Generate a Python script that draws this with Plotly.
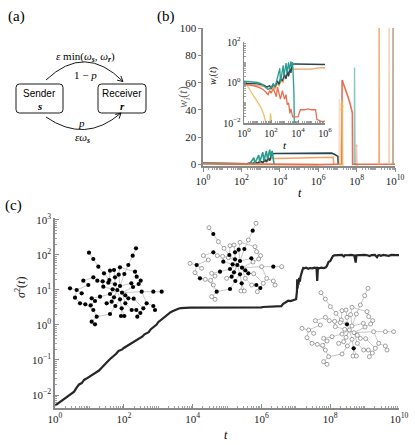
import math
import plotly.graph_objects as go

W, H = 415, 445

# ---------------- panel (b): w_i(t) ----------------
navy_t = [1, 3, 10, 30, 50, 80, 100, 150, 200, 300, 400, 500, 700, 1000, 1300, 1700, 2000, 2500, 3000,
          3500, 4000, 6000, 1e4, 1e5, 1e6, 3e6, 5e6, 7e6, 9e6, 1.07e7, 1.1e7]
navy_w = [0.9, 0.9, 0.85, 0.75, 0.6, 0.7, 0.5, 0.8, 0.6, 1.2, 0.8, 1.6, 1.2, 2.5, 1.5, 3.5, 2.0, 5.0, 3.0,
          6.5, 8.0, 8.2, 8.2, 8.3, 8.5, 8.7, 8.4, 7.6, 6.8, 6.0, 0.001]

teal_t = [1, 3, 10, 20, 40, 60, 100, 150, 200, 300, 450, 500, 800, 900, 1300, 1500, 2000, 2300, 3000,
          3300, 4000, 5000, 5500]
teal_w = [1.15, 1.1, 1.0, 0.85, 0.6, 0.45, 0.55, 0.9, 0.6, 1.5, 5.0, 1.0, 7.0, 2.0, 9.0, 3.0, 10.0, 4.0, 11.0,
          6.0, 10.0, 0.3, 0.001]

orange_t = [1, 5, 10, 30, 60, 100, 150, 200, 300, 400, 600, 800, 1000, 1500, 2000, 3000, 4000, 6000,
            1e4, 1e5, 3e5, 1e6, 3e6, 5e6, 6e6, 6.5e6]
orange_w = [0.8, 0.75, 0.7, 0.65, 0.55, 0.45, 0.6, 0.5, 0.9, 0.7, 1.3, 1.0, 2.0, 2.5, 2.2, 4.0, 4.8, 4.5,
            4.6, 4.6, 5.3, 5.4, 5.5, 5.5, 5.4, 0.001]

yellow_t = [1, 1.5, 2, 3, 5, 8, 12, 20, 30, 45, 50, 80, 90, 100, 110, 1e6]
yellow_w = [1.0, 0.8, 0.6, 0.4, 0.25, 0.15, 0.09, 0.05, 0.025, 0.008, 0.001, 0.001, 0.03, 0.02, 0.001, 0.001]

salmon_t = [1, 3, 10, 20, 40, 60, 80, 100, 150, 200, 250, 300, 400, 500, 700, 1000, 1300, 1600, 2000,
            2500, 3000, 4000, 6000, 1e4, 1.5e4, 3e4, 6e4, 1e5, 2e5, 2.5e5, 5e5, 1e6, 1e7, 1.7e7, 1.75e7,
            2.2e7, 2.8e7, 3.5e7, 4.5e7, 5.5e7, 6e7, 6.2e7, 1e10]
salmon_w = [0.8, 0.75, 0.6, 0.5, 0.35, 0.25, 0.4, 0.3, 0.5, 0.25, 0.2, 0.6, 0.3, 0.15, 0.4, 0.15, 0.25, 0.08, 0.1,
            0.03, 0.05, 0.02, 0.02, 0.02, 0.045, 0.045, 0.05, 0.045, 0.045, 0.015, 0.012, 0.012, 0.3, 0.3, 62,
            58, 55, 50, 45, 40, 38, 0.3, 0.3]

# late, short-lived nodes (faded spikes)
late_yellow_t = [1.45e7, 1.5e7, 1.6e7, 1.7e7, 1.8e7, 1.9e7, 1.95e7]
late_yellow_w = [0, 40, 44, 42, 46, 43, 0]
late_peach_t = [1.2e7, 1.22e7, 1.26e7, 1.28e7]
late_peach_w = [0, 48, 48, 0]
late_teal_t = [7.7e7, 7.8e7, 8.2e7, 8.3e7]
late_teal_w = [0, 71, 70, 0]
late_pink_t = [9.5e7, 1.0e8, 1.05e8]
late_pink_w = [0, 14, 0]
late_orange_t = [1.45e9, 1.47e9, 1.5e9, 1.52e9]
late_orange_w = [0, 150, 150, 0]
late_peach2_t = [4.8e9, 4.85e9, 4.95e9, 5.0e9]
late_peach2_w = [0, 150, 150, 0]
late_tan_t = [7.8e9, 7.85e9, 7.95e9, 8.0e9]
late_tan_w = [0, 150, 150, 0]

# ---------------- panel (c): sigma^2(t) ----------------
sig_t = [1, 1.3, 1.6, 2, 2.5, 3, 3.6, 4.2, 5, 6, 7, 8, 9, 10, 12, 14, 16, 19, 22, 26, 30, 35, 40, 46, 53, 60,
         70, 80, 90, 100, 115, 130, 150, 170, 200, 230, 260, 300, 350, 400, 460, 530, 600, 700, 800, 900,
         1000, 1150, 1300, 1500, 1700, 2000, 2300, 2600, 3000, 3500, 4000, 4600, 5300, 6000, 7000, 8500,
         1e4, 1.5e4, 2e4, 3e4, 5e4, 7e4, 1e5, 1.5e5, 2e5, 3e5, 5e5, 7e5, 1e6, 1.1e6, 1.5e6, 2e6, 2.5e6, 3e6,
         3.8e6, 4.2e6, 4.5e6, 5e6, 5.5e6, 6e6, 7e6, 8e6, 9e6, 1.02e7, 1.08e7, 1.1e7, 1.13e7, 1.16e7, 1.2e7,
         1.25e7, 1.3e7, 1.38e7, 1.45e7, 1.55e7, 1.65e7, 1.75e7, 2e7, 2.3e7, 2.6e7, 3e7, 3.5e7, 4e7, 4.2e7,
         4.4e7, 4.7e7, 5.5e7, 6.5e7, 7.5e7, 8e7, 8.5e7, 9e7, 1e8, 1.1e8, 1.2e8, 1.3e8, 1.5e8, 1.8e8, 2.2e8,
         2.5e8, 2.7e8, 3.2e8, 4e8, 5e8, 5.5e8, 5.8e8, 6.5e8, 8e8, 1e9, 1.2e9, 1.4e9, 1.6e9, 1.8e9, 2e9,
         2.3e9, 2.5e9, 2.7e9, 3e9, 3.5e9, 4e9, 4.5e9, 5e9, 6e9, 7e9, 8.5e9, 1e10]
sig_v = [0.005, 0.006, 0.007, 0.0085, 0.01, 0.0112, 0.0125, 0.016, 0.02, 0.022, 0.027, 0.029, 0.031, 0.033,
         0.037, 0.042, 0.043, 0.05, 0.058, 0.068, 0.076, 0.093, 0.107, 0.118, 0.135, 0.15,
         0.18, 0.19, 0.2, 0.22, 0.24, 0.25, 0.28, 0.3, 0.33, 0.36, 0.38, 0.44, 0.47, 0.54, 0.59, 0.62, 0.74,
         0.82, 0.95, 1.02,
         1.2, 1.35, 1.42, 1.7, 1.85, 2.15, 2.3, 2.45, 2.65, 2.8, 2.95, 3.0, 3.05, 3.08, 3.1, 3.1,
         3.12, 3.11, 3.12, 3.13, 3.12, 3.13, 3.14, 3.13, 3.14, 3.15, 3.15, 3.16, 3.17, 3.25, 3.3, 3.35, 3.4,
         3.42,
         3.45, 3.9, 4.1, 4.3, 4.6, 4.9, 4.8, 5.0, 5.1, 5.4, 9, 20, 11, 18, 14,
         22, 17, 24, 30, 36, 42, 41, 43, 40, 42, 41, 43, 42, 18,
         42, 41, 43, 42, 44, 48, 60, 63, 66, 80, 92, 96, 98, 97, 99,
         90, 98, 97, 99, 96, 60, 97, 98, 95, 99, 97, 92, 98, 96, 99,
         85, 97, 98, 94, 99, 97, 98, 93, 99, 97, 98, 98]
assert len(sig_t) == len(sig_v)

# ---------------- network drawings (node layout, edges, states) ----------------
node_x = [172, 158, 186, 165, 180, 205, 218, 228, 193, 87, 100, 115, 132, 148, 150, 162, 180, 176, 165,
          225, 230, 242, 236, 214, 219, 245, 280, 305, 260, 280, 285, 205, 221, 215, 229, 241, 232, 250,
          196, 180, 166, 185, 183, 193, 155, 140, 150, 120, 110, 95, 105, 150, 100, 112, 128, 85, 70, 30,
          50, 65, 45, 60, 76, 95, 105, 92, 100, 145, 196, 162, 130]
node_y = [150, 148, 158, 133, 138, 75, 47, 25, 102, 38, 57, 80, 100, 120, 92, 90, 82, 104, 112,
          95, 110, 122, 132, 130, 141, 155, 155, 155, 190, 198, 210, 175, 176, 210, 210, 219, 230, 205,
          190, 178, 198, 205, 228, 228, 185, 190, 222, 170, 230, 245, 253, 162, 112, 122, 124, 135, 122, 145,
          150, 160, 173, 190, 193, 175, 183, 196, 210, 128, 166, 172, 140]
edges = [(0, 1), (0, 2), (0, 3), (0, 4), (0, 39), (0, 44), (0, 51), (0, 69), (4, 8), (8, 5), (5, 6), (6, 7),
         (9, 10), (10, 11), (11, 12), (12, 13), (13, 3), (14, 13), (15, 18), (16, 17), (17, 18), (18, 3),
         (17, 4), (19, 20), (20, 21), (21, 22), (22, 24), (23, 24), (23, 4), (24, 2), (16, 19), (2, 25),
         (25, 26), (26, 27), (25, 28), (28, 29), (29, 30), (28, 37), (2, 31), (31, 32), (32, 37), (37, 35),
         (33, 34), (34, 35), (35, 36), (33, 38), (38, 2), (39, 41), (41, 42), (41, 43), (39, 40), (40, 46),
         (44, 45), (46, 48), (48, 49), (49, 50), (1, 51), (51, 47), (47, 63), (63, 64), (64, 65), (65, 66),
         (66, 48), (3, 67), (67, 54), (54, 53), (53, 52), (52, 56), (56, 55), (55, 58), (57, 58), (58, 59),
         (58, 60), (60, 61), (61, 62), (62, 66), (1, 70), (70, 54), (0, 68), (68, 31)]
alive_net1 = list(range(71))
alive_net2 = [0, 1, 2, 3, 4, 6, 8, 10, 13, 17, 18, 23, 26, 31, 34, 35, 39, 40, 41, 44, 46, 47, 48, 51, 52,
              58, 61, 68, 69, 70]
alive_net3 = [3, 41]

# ---------------- helpers ----------------
def dx(a, b):
    return [a / W, b / W]


def dy(top, bottom):
    return [1 - bottom / H, 1 - top / H]


SERIF = "Liberation Serif"
SANS = "Liberation Sans"
AX = "#8a8a8a"
TXT = "#222"


def sup(e):
    return "10<sup>%s</sup>" % (str(e).replace("-", "\u2212"))


fig = go.Figure()

# ---- (b) main ----
series = [
    (yellow_t, yellow_w, "#e9c46a"),
    (orange_t, orange_w, "#f4a261"),
    (navy_t, navy_w, "#264653"),
    (teal_t, teal_w, "#2a9d8f"),
    (salmon_t, salmon_w, "#e76f51"),
]
for t, w, c in series:
    fig.add_trace(go.Scatter(x=t, y=w, mode="lines", line=dict(color=c, width=1.6),
                             xaxis="x", yaxis="y", showlegend=False, hoverinfo="skip"))

late = [
    (late_peach_t, late_peach_w, "#f4a261", 0.35, False),
    (late_yellow_t, late_yellow_w, "#e9c46a", 0.6, True),
    (late_teal_t, late_teal_w, "#2a9d8f", 0.55, False),
    (late_pink_t, late_pink_w, "#e76f51", 0.4, True),
    (late_orange_t, late_orange_w, "#f4a261", 0.9, False),
    (late_peach2_t, late_peach2_w, "#f4a261", 0.5, False),
    (late_tan_t, late_tan_w, "#a8907c", 0.9, False),
]
for t, w, c, op, mk in late:
    fig.add_trace(go.Scatter(x=t, y=w, mode="lines+markers" if mk else "lines",
                             marker=dict(size=2.5, color=c), line=dict(color=c, width=1.4),
                             opacity=op, xaxis="x", yaxis="y", showlegend=False, hoverinfo="skip"))

# ---- (b) inset ----
for t, w, c in series:
    fig.add_trace(go.Scatter(x=t, y=w, mode="lines", line=dict(color=c, width=1.3),
                             xaxis="x2", yaxis="y2", showlegend=False, hoverinfo="skip"))

# ---- (c) ----
fig.add_trace(go.Scatter(x=sig_t, y=sig_v, mode="lines", line=dict(color="#262626", width=2.2),
                         xaxis="x3", yaxis="y3", showlegend=False, hoverinfo="skip"))

# ---- networks (pixel overlay axes x4/y4) ----
nets = [((60, 240), alive_net1), ((180, 215), alive_net2), ((292, 280), alive_net3)]
for (ox, oy), alive in nets:
    ex, ey = [], []
    for a, b in edges:
        ex += [ox + node_x[a] / 3, ox + node_x[b] / 3, None]
        ey += [oy + node_y[a] / 3, oy + node_y[b] / 3, None]
    fig.add_trace(go.Scatter(x=ex, y=ey, mode="lines", line=dict(color="#b0b0b0", width=0.7),
                             xaxis="x4", yaxis="y4", showlegend=False, hoverinfo="skip"))
    dead = [i for i in range(len(node_x)) if i not in alive]
    fig.add_trace(go.Scatter(x=[ox + node_x[i] / 3 for i in dead], y=[oy + node_y[i] / 3 for i in dead],
                             mode="markers",
                             marker=dict(size=4, color="white", line=dict(color="#7a7a7a", width=0.7)),
                             xaxis="x4", yaxis="y4", showlegend=False, hoverinfo="skip"))
    fig.add_trace(go.Scatter(x=[ox + node_x[i] / 3 for i in alive], y=[oy + node_y[i] / 3 for i in alive],
                             mode="markers", marker=dict(size=4.2, color="black"),
                             xaxis="x4", yaxis="y4", showlegend=False, hoverinfo="skip"))

# ---------------- axes ----------------
dec10 = [10 ** k for k in range(0, 11, 2)]
minor_all = [m * 10 ** k for k in range(0, 10) for m in range(1, 10)] + [1e10]


def logx(domain, rng, vals, ticks, anchor, ticklen=4, font=11, minor_vals=None):
    return dict(domain=domain, type="log", range=rng, tickvals=vals, automargin=False,
                ticktext=[sup(int(round(math.log10(v)))) for v in vals], ticks=ticks, ticklen=ticklen,
                tickwidth=1, tickcolor=AX, showline=True, linecolor=AX, linewidth=1.6, showgrid=False,
                zeroline=False, anchor=anchor, tickfont=dict(family=SERIF, size=font, color=TXT),
                minor=dict(tickvals=minor_vals, ticks=ticks, ticklen=ticklen * 0.55, tickcolor=AX, tickwidth=0.8),
                fixedrange=True)


fig.update_layout(
    template="none",
    width=W, height=H, autosize=False, margin=dict(l=0, r=0, t=0, b=0, pad=0),
    paper_bgcolor="white", plot_bgcolor="rgba(0,0,0,0)", hovermode=False,
    font=dict(family=SERIF, color=TXT),
    xaxis=logx(dx(203, 395), [0, 10], dec10, "outside", "y", 4, 11, minor_all),
    yaxis=dict(domain=dy(28, 166), range=[-1, 100], tickvals=[0, 20, 40, 60, 80, 100], ticks="outside",
               ticklen=3, tickcolor=AX, showline=True, linecolor=AX, linewidth=1.6, showgrid=False,
               zeroline=False, anchor="x", automargin=False,
               tickfont=dict(family=SERIF, size=11, color=TXT), fixedrange=True),
    xaxis2=logx(dx(244, 325), [0, 6], [1, 1e2, 1e4, 1e6], "inside", "y2", 3, 10,
                [m * 10 ** k for k in range(0, 6) for m in range(1, 10)]),
    yaxis2=dict(domain=dy(42, 123), type="log", range=[-2, 2], tickvals=[1e-2, 1, 1e2], automargin=False,
                ticktext=[sup(-2), sup(0), sup(2)], ticks="inside", ticklen=3, tickcolor=AX, showline=True,
                linecolor=AX, linewidth=1.4, showgrid=False, zeroline=False, anchor="x2",
                tickfont=dict(family=SERIF, size=10, color=TXT),
                minor=dict(tickvals=[m * 10 ** k for k in range(-2, 2) for m in range(1, 10)], ticks="inside",
                           ticklen=1.8, tickcolor=AX, tickwidth=0.8), fixedrange=True),
    xaxis3=logx(dx(55, 399), [0, 10], dec10, "inside", "y3", 4, 11, minor_all),
    yaxis3=dict(domain=dy(218, 408), type="log", range=[-2.37, 3.05], tickvals=[1e-2, 1e-1, 1, 10, 100, 1000],
                ticktext=[sup(e) for e in [-2, -1, 0, 1, 2, 3]], ticks="inside", ticklen=4, tickcolor=AX,
                showline=True, linecolor=AX, linewidth=1.6, showgrid=False, zeroline=False, anchor="x3",
                automargin=False, tickfont=dict(family=SERIF, size=11, color=TXT),
                minor=dict(tickvals=[m * 10 ** k for k in range(-3, 3) for m in range(1, 10)], ticks="inside",
                           ticklen=2.2, tickcolor=AX, tickwidth=0.8), fixedrange=True),
    xaxis4=dict(domain=[0, 1], range=[0, W], visible=False, anchor="y4", fixedrange=True, automargin=False),
    yaxis4=dict(domain=[0, 1], range=[H, 0], visible=False, anchor="x4", fixedrange=True, automargin=False),
)

# ---------------- panel (a) diagram ----------------
def rrect(x0, y0, x1, y1, r):
    return ("M %g %g L %g %g Q %g %g %g %g L %g %g Q %g %g %g %g L %g %g Q %g %g %g %g L %g %g Q %g %g %g %g Z"
            % (x0 + r, y0, x1 - r, y0, x1, y0, x1, y0 + r, x1, y1 - r, x1, y1, x1 - r, y1,
               x0 + r, y1, x0, y1, x0, y1 - r, x0, y0 + r, x0, y0, x0 + r, y0))


def head(cx, cy, tx, ty, L=6.0, ang=28):
    d = math.atan2(ty - cy, tx - cx)
    pts = []
    for s in (1, -1):
        a = d + math.pi - s * math.radians(ang)
        pts.append((tx + L * math.cos(a), ty + L * math.sin(a)))
    return "M %g %g L %g %g L %g %g" % (pts[0][0], pts[0][1], tx, ty, pts[1][0], pts[1][1])


shapes = []
ln = dict(color="black", width=0.9)
shapes.append(dict(type="path", xref="x4", yref="y4", path=rrect(16, 84, 63, 113, 3.5), line=ln))
shapes.append(dict(type="path", xref="x4", yref="y4", path=rrect(98, 84, 146, 113, 3.5), line=ln))
shapes.append(dict(type="path", xref="x4", yref="y4", path="M 46 80 Q 85 43 123 81.5", line=ln))
shapes.append(dict(type="path", xref="x4", yref="y4", path=head(98, 60, 123, 81.5), line=ln))
shapes.append(dict(type="path", xref="x4", yref="y4", path="M 46 117 Q 85 144 121 113", line=ln))
shapes.append(dict(type="path", xref="x4", yref="y4", path=head(100, 133, 121, 113), line=ln))
fig.update_layout(shapes=shapes)


def txt(x, y, s, size=11, fam=SERIF, color="black", angle=0):
    fig.add_annotation(x=x, y=y, xref="x4", yref="y4", text=s, showarrow=False, textangle=angle,
                       xanchor="center", yanchor="middle", font=dict(family=fam, size=size, color=color))


txt(16, 16, "(a)", 15)
txt(166, 16, "(b)", 15)
txt(13, 205, "(c)", 15)
txt(39, 93, "Sender", 10, SANS)
txt(39, 106, "<b><i>s</i></b>", 11)
txt(122, 93, "Receiver", 10, SANS)
txt(122, 106, "<b><i>r</i></b>", 11)
txt(85, 57, "<i>ε</i> min(<i>ω</i><sub><b><i>s</i></b></sub>, <i>ω</i><sub><b><i>r</i></b></sub>)", 11)
txt(85, 75, "1 − <i>p</i>", 11)
txt(81, 123, "<i>p</i>", 11)
txt(82, 138, "<i>εω</i><sub><b><i>s</i></b></sub>", 11)

# axis titles
txt(184, 97, "<i>w<sub>i</sub></i>(<i>t</i>)", 12, SERIF, "#666", -90)
txt(300, 193, "<i>t</i>", 12)
txt(213, 76, "<i>w<sub>i</sub></i>(<i>t</i>)", 10, SERIF, TXT, -90)
txt(285, 145, "<i>t</i>", 11)
txt(20, 288, "<i>σ</i><sup>2</sup>(<i>t</i>)", 12, SERIF, TXT, -90)
txt(226, 435, "<i>t</i>", 12)

fig.write_html("out.html", config={"displayModeBar": False, "staticPlot": True},
               post_script="document.body.style.margin='0';document.body.style.padding='0';"
                           "document.documentElement.style.overflow='hidden';")
